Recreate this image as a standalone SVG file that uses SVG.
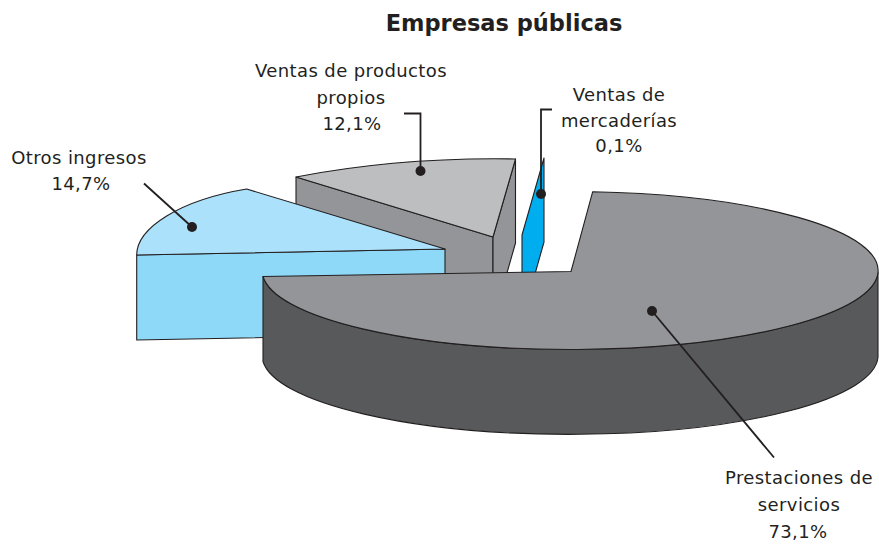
<svg xmlns="http://www.w3.org/2000/svg" width="879" height="544" viewBox="0 0 879 544">
<style>
.edge{stroke:#231f20;stroke-width:1.1;stroke-linejoin:round}
.lbl{font-family:"DejaVu Sans","Liberation Sans",sans-serif;font-size:18px;fill:#231f20;text-anchor:middle;letter-spacing:0.4px}
.title{font-family:"DejaVu Sans","Liberation Sans",sans-serif;font-size:22.5px;font-weight:bold;fill:#231f20;text-anchor:middle}
.lead{fill:none;stroke:#231f20;stroke-width:1.8}
.dot{fill:#231f20}
</style>
<rect width="879" height="544" fill="#ffffff"/>
<text class="title" x="504" y="31">Empresas públicas</text>

<g id="ventas-productos">
  <polygon class="edge" fill="#939598" points="296,177 493,237 493,322 296,262"/>
  <polygon class="edge" fill="#939598" points="493,237 515.5,159 515.5,243 493,322"/>
  <path class="edge" fill="#bcbec0" d="M296,177 Q400,157 515.5,159 L493,237 Z"/>
  <text class="lbl" x="351" y="77">Ventas de productos</text>
  <text class="lbl" x="351" y="103.5">propios</text>
  <text class="lbl" x="352" y="130">12,1%</text>
</g>

<g id="ventas-mercaderias">
  <polygon class="edge" fill="#00aeef" points="544,158 544,242 522,320 522,235"/>
  <text class="lbl" x="619" y="101">Ventas de</text>
  <text class="lbl" x="619" y="127">mercaderías</text>
  <text class="lbl" x="619" y="152">0,1%</text>
</g>

<g id="otros-ingresos">
  <polygon class="edge" fill="#8ed8f8" points="136.7,255 445,249 445,334 136.7,340"/>
  <path class="edge" fill="#abe1fa" d="M136.7,255 C136.7,228 180,200 246.7,189 L445,249 Z"/>
  <text class="lbl" x="79" y="163.5">Otros ingresos</text>
  <text class="lbl" x="81" y="190">14,7%</text>
</g>

<g id="prestaciones-servicios">
  <path class="edge" fill="#58595b" d="M263,276.5 L263,361.5 A308,79 0 0 0 878,357 L878,272 A308,79 0 0 1 263,276.5 Z"/>
  <path class="edge" fill="#939598" d="M263,276.5 L571,271.5 L592.7,191.7 A308,79 0 1 1 263,276.5 Z"/>
  <text class="lbl" x="799" y="484">Prestaciones de</text>
  <text class="lbl" x="799" y="511">servicios</text>
  <text class="lbl" x="798" y="538">73,1%</text>
</g>

<g id="connectors">
  <polyline class="lead" points="404,113.5 420.5,113.5 420.5,171"/>
  <circle class="dot" cx="420.5" cy="171" r="5"/>
  <polyline class="lead" points="552,109.5 541,109.5 541,194"/>
  <circle class="dot" cx="541" cy="194" r="5"/>
  <line class="lead" x1="144" y1="183.5" x2="192" y2="227"/>
  <circle class="dot" cx="192" cy="227" r="5"/>
  <line class="lead" x1="652" y1="311" x2="774" y2="457.5"/>
  <circle class="dot" cx="652" cy="311" r="5"/>
</g>
</svg>
